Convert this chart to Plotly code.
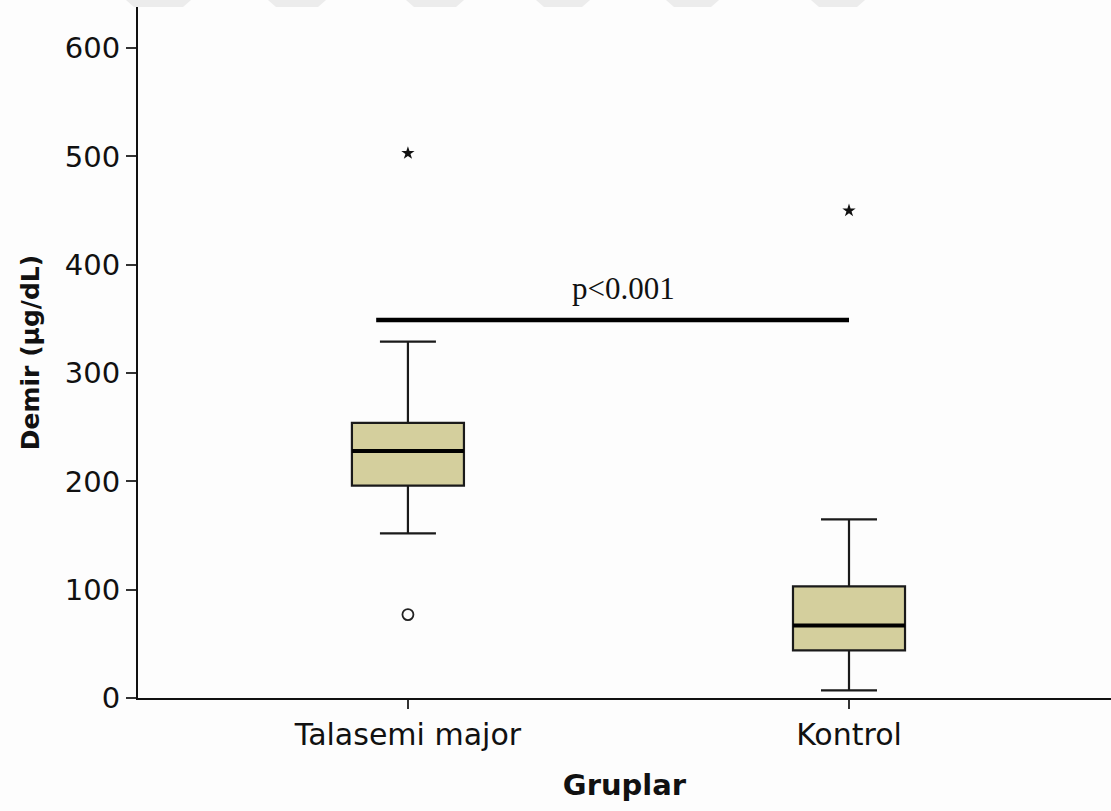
import plotly.graph_objects as go

# Group labels and box statistics (µg/dL)
groups = ["Talasemi major", "Kontrol"]
group_pos = [0, 1]
q1 = [196, 44]
median = [228, 67]
q3 = [254, 103]
lower_whisker = [152, 7]
upper_whisker = [329, 165]

# Outliers: circles = mild, stars = extreme
mild_group = [0]
mild_values = [77]
extreme_group = [0, 1]
extreme_values = [503, 450]

# Significance bar
sig_value = 349
sig_span = [-0.072, 1.0]
sig_label = "p<0.001"

y_ticks = [0, 100, 200, 300, 400, 500, 600]

box_width = 0.254
fill = "#D4CF9D"
sans = "DejaVu Sans, Verdana, sans-serif"

fig = go.Figure()

fig.add_trace(go.Box(
    x=group_pos,
    q1=q1, median=median, q3=q3,
    lowerfence=lower_whisker, upperfence=upper_whisker,
    width=box_width,
    whiskerwidth=0.5,
    fillcolor=fill,
    line=dict(color="#1a1a1a", width=2.2),
    boxpoints=False,
    showlegend=False,
    hoverinfo="skip",
))

# Heavier median bars drawn over each box
for xp, m in zip(group_pos, median):
    fig.add_trace(go.Scatter(
        x=[xp - box_width / 2, xp + box_width / 2], y=[m, m],
        mode="lines", line=dict(color="#000000", width=4),
        showlegend=False, hoverinfo="skip",
    ))

fig.add_trace(go.Scatter(
    x=mild_group, y=mild_values, mode="markers",
    marker=dict(symbol="circle-open", size=11, color="#222222", line=dict(width=1.8)),
    showlegend=False, hoverinfo="skip",
))
fig.add_trace(go.Scatter(
    x=extreme_group, y=extreme_values, mode="markers",
    marker=dict(symbol="star", size=10, color="#111111", line=dict(width=0)),
    showlegend=False, hoverinfo="skip",
))

# Significance line and label
fig.add_trace(go.Scatter(
    x=sig_span, y=[sig_value, sig_value], mode="lines",
    line=dict(color="#000000", width=4.5),
    showlegend=False, hoverinfo="skip",
))
fig.add_annotation(
    x=(sig_span[0] + sig_span[1]) / 2 + 0.025, y=sig_value, yshift=12,
    text=sig_label, showarrow=False, yanchor="bottom",
    font=dict(family="Liberation Serif, Times New Roman, serif", size=31, color="#111111"),
)

# Faint trapezoid stripes along the top edge (plot area spans x 138..1111, y 7..698)
stripe_px = [(126, 191), (268, 326), (406, 464), (536, 590), (666, 719), (811, 865)]
area_w, area_h = 973.0, 691.0
for a, b in stripe_px:
    x0, x1 = (a - 138) / area_w, (b - 138) / area_w
    inset = 8 / area_w
    top, bot = 1 + 7 / area_h, 1.0
    fig.add_shape(
        type="path", xref="paper", yref="paper",
        path=f"M {x0} {top} L {x1} {top} L {x1 - inset} {bot} L {x0 + inset} {bot} Z",
        fillcolor="#ECECEC", line=dict(width=0), layer="below",
    )

fig.update_layout(
    width=1111, height=811,
    margin=dict(l=138, r=0, t=7, b=113),
    paper_bgcolor="#FDFDFD",
    plot_bgcolor="#FDFDFD",
    font=dict(family=sans, color="#111111"),
    xaxis=dict(
        range=[-0.612, 1.594],
        tickvals=group_pos, ticktext=groups,
        ticks="outside", ticklen=9, tickwidth=1.5, tickcolor="#333333",
        showline=True, linecolor="#111111", linewidth=2,
        showgrid=False, zeroline=False,
        tickfont=dict(family=sans, size=30, color="#111111"),
        title=dict(text="<b>Gruplar</b>", font=dict(family=sans, size=29), standoff=24),
    ),
    yaxis=dict(
        range=[0, 638],
        tickvals=y_ticks,
        ticks="outside", ticklen=10, tickwidth=1.5, tickcolor="#333333",
        showline=True, linecolor="#111111", linewidth=2,
        showgrid=False, zeroline=False,
        tickfont=dict(family=sans, size=29, color="#111111"),
        title=dict(text="<b>Demir (µg/dL)</b>", font=dict(family=sans, size=25), standoff=18),
    ),
)

fig.write_html("out.html")
